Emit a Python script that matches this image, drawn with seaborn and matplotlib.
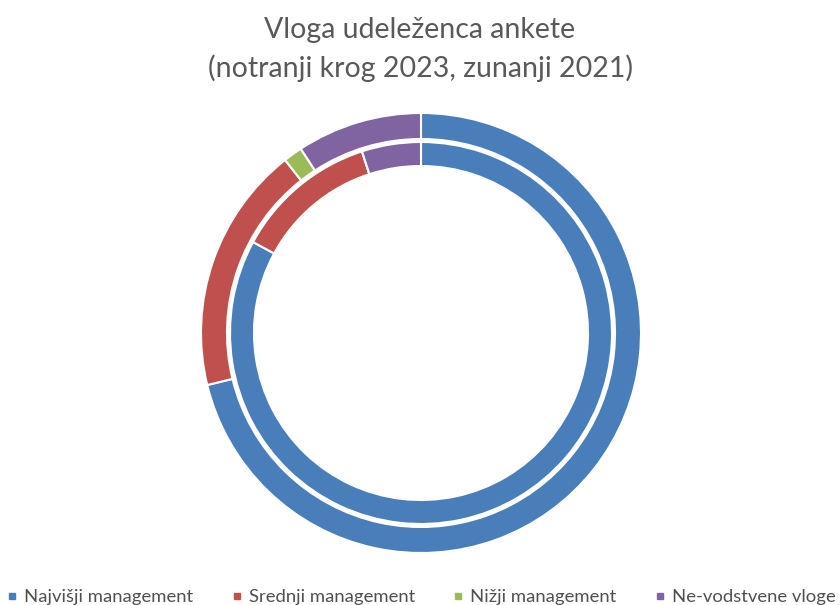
import matplotlib
matplotlib.use("Agg")
import matplotlib.pyplot as plt
import seaborn as sns
from matplotlib.lines import Line2D

# podatki (delež v %)
categories = ["Najvišji management", "Srednji management", "Nižji management", "Ne-vodstvene vloge"]
outer_2021 = [71.2, 18.2, 1.4, 9.2]
inner_2023 = [82.9, 12.1, 0.0, 5.0]
colors = ["#4A7EBB", "#C0504D", "#9BBB59", "#8064A2"]

sns.set_theme(style="white")
plt.rcParams["font.family"] = ["Lato", "DejaVu Sans"]

fig = plt.figure(figsize=(8.4, 6.05), dpi=100)
W, H = 840, 605
cx, cy, R = 421, 333, 220
ax = fig.add_axes([(cx - R) / W, (H - cy - R) / H, 2 * R / W, 2 * R / H])

wedge = dict(edgecolor="white", linewidth=1.5)
ax.pie(outer_2021, colors=colors, radius=1.0, startangle=90, counterclock=False,
       wedgeprops=dict(width=26 / 220, **wedge))
ax.pie(inner_2023, colors=colors, radius=191 / 220, startangle=90, counterclock=False,
       wedgeprops=dict(width=24 / 220, **wedge))
ax.set_xlim(-1, 1)
ax.set_ylim(-1, 1)
ax.set_aspect("equal")

fig.text(0.5, 1 - 30 / H, "Vloga udeleženca ankete",
         ha="center", va="center", fontsize=20.5, color="#595959")
fig.text(0.5, 1 - 68 / H, "(notranji krog 2023, zunanji 2021)",
         ha="center", va="center", fontsize=20.5, color="#595959")

handles = [Line2D([], [], marker="s", linestyle="", markersize=5, color=c) for c in colors]
fig.legend(handles, categories, loc="center left", bbox_to_anchor=(0.0, 1 - 597 / H),
           ncol=4, frameon=False, fontsize=13.3, handlelength=0.5, handletextpad=0.4,
           columnspacing=2.1, labelcolor="#505050", borderaxespad=0.0)

fig.savefig("out.png", dpi=100)
